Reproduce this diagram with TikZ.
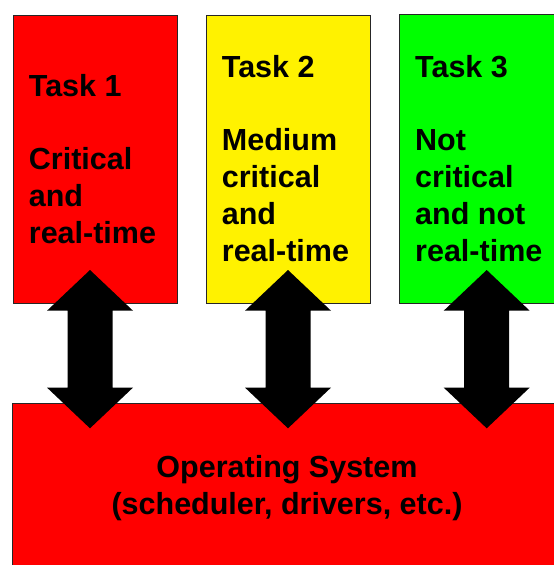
\documentclass[tikz,border=0pt]{standalone}
\usepackage{fontspec}
\setmainfont{Liberation Sans}
\begin{document}
\begin{tikzpicture}[x=1pt,y=-1pt,
  box/.style={draw=black!85,line width=0.9pt,inner sep=0pt,anchor=north west},
  openbox/.style={draw=none,inner sep=0pt,anchor=north west},
  border/.style={draw=black!85,line width=0.9pt},
  taskbox/.style={minimum width=164pt,minimum height=288.5pt},
  lbl/.style={inner sep=0pt,anchor=base west,font=\bfseries\fontsize{30.5}{36.8}\selectfont},
  oslbl/.style={inner sep=0pt,anchor=base,font=\bfseries\fontsize{30.5}{36.8}\selectfont},
  pics/dblarrow/.style={code={
    \fill[black] (0,0) -- (43,40.7) -- (22.5,40.7) -- (22.5,117.6) -- (43,117.6)
      -- (0,158.3) -- (-43,117.6) -- (-22.5,117.6) -- (-22.5,40.7) -- (-43,40.7) -- cycle;
  }}]
\useasboundingbox (0,0) rectangle (554,565);
\clip (0,0) rectangle (554,565);
\fill[white] (0,0) rectangle (554,565);

% task boxes
\node[box,taskbox,fill=red] (t1) at (12.7,14.8) {};
\node[box,taskbox,fill=yellow] (t2) at (205.7,14.8) {};
\node[openbox,taskbox,fill=green,minimum width=180pt] (t3) at (399.3,14.8) {};
\draw[border] (t3.north east) -- (t3.north west) -- (t3.south west) -- (t3.south east);

% operating system box
\node[openbox,fill=red,minimum width=580pt,minimum height=200pt] (os) at (12.7,403.3) {};
\draw[border] (os.south west) -- (os.north west) -- (os.north east);

% task labels
\node[lbl] (t1txt) at (28.7,96) {\parbox[t]{150pt}{\raggedright Task 1\\ \mbox{}\\ Critical\\ and\\ real-time}};
\node[lbl] (t2txt) at (221.7,77.2) {\parbox[t]{150pt}{\raggedright Task 2\\ \mbox{}\\ Medium\\ critical\\ and\\ real-time}};
\node[lbl] (t3txt) at (415.0,77.2) {\parbox[t]{150pt}{\raggedright Task 3\\ \mbox{}\\ Not\\ critical\\ and not\\ real-time}};

% OS label
\node[oslbl] (ostxt) at (287,477.3) {\parbox[t]{450pt}{\centering Operating System\\ (scheduler, drivers, etc.)}};

% double arrows
\pic (a1) at (90,270) {dblarrow};
\pic (a2) at (288,270) {dblarrow};
\pic (a3) at (486.7,270) {dblarrow};
\end{tikzpicture}
\end{document}
